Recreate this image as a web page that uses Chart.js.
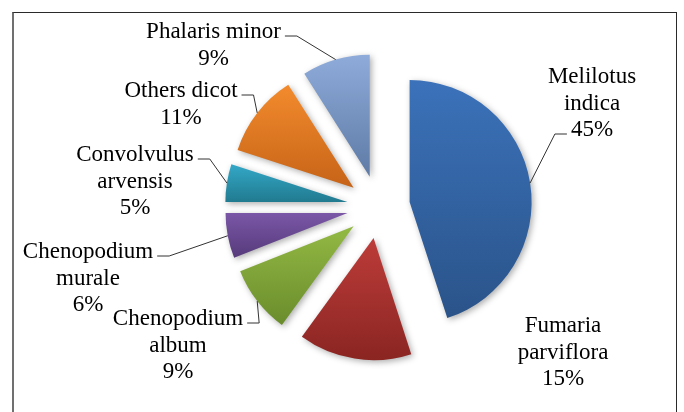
<!DOCTYPE html>
<html><head><meta charset="utf-8">
<script src="https://cdn.jsdelivr.net/npm/chart.js@4.4.1/dist/chart.umd.min.js"></script>
<style>
html,body{margin:0;padding:0;background:#fff;}
#wrap{position:relative;width:684px;height:412px;overflow:hidden;}
#frame{position:absolute;left:12px;top:12px;width:665px;height:440px;border:1px solid #2a2a2a;border-left:2px solid #707070;box-sizing:border-box;}
canvas{position:absolute;left:0;top:0;}
</style></head><body>
<div id="wrap"><div id="frame"></div><canvas id="c" width="684" height="412"></canvas></div>
<script>
// ---- data ----
const categories = ["Melilotus indica", "Fumaria parviflora", "Chenopodium album", "Chenopodium murale", "Convolvulus arvensis", "Others dicot", "Phalaris minor"];
const shares = [45, 15, 9, 6, 5, 11, 9];
// label text as broken into lines (name part), percent appended below
const labelLines = [["Melilotus", "indica"], ["Fumaria", "parviflora"], ["Chenopodium", "album"], ["Chenopodium", "murale"], ["Convolvulus", "arvensis"], ["Others dicot"], ["Phalaris minor"]];

// ---- style ----
const colorsTop    = ["#3b72ba", "#bd3c39", "#93b944", "#7b57a7", "#33a8c8", "#f38b2d", "#8eabda"];
const colorsBottom = ["#2a5389", "#8a2522", "#6a8c2c", "#563a7b", "#217a8f", "#c66317", "#5e7aa5"];
const EXPLODE = 31.5;
const RADIUS = 122;
const LINE_H = 26.5;
// label block placement relative to pie centre: x of text centre, baseline of first line
const labelDX = [213.5, 184.5, -200.5, -290.5, -243.5, -197.5, -165];
const labelDY = [-124, 125, 118, 51, -46, -110, -169];
// which line the leader attaches to, and from which side (null = no leader)
const leaderLine = [2, null, 0, 0, 0, 0, 0];
const leaderSide = ["left", null, "right", "right", "right", "right", "right"];

const explodePlugin = {
  id: 'explode',
  beforeDatasetDraw(chart, args) {
    const ctx = chart.ctx;
    args.meta.data.forEach((el, i) => {
      const {x, y, outerRadius: r, startAngle: a0, endAngle: a1} = el;
      const mid = (a0 + a1) / 2;
      const dx = Math.cos(mid) * EXPLODE, dy = Math.sin(mid) * EXPLODE;
      const ys = [y, y + Math.sin(a0) * r, y + Math.sin(a1) * r];
      for (const base of [-Math.PI / 2, Math.PI / 2]) {
        for (let k = -2; k <= 2; k++) {
          const t = base + k * 2 * Math.PI;
          if (t >= a0 && t <= a1) ys.push(y + Math.sin(t) * r);
        }
      }
      const top = Math.min(...ys), bot = Math.max(...ys);
      ctx.save();
      ctx.translate(dx, dy);
      const g = ctx.createLinearGradient(0, top, 0, bot);
      g.addColorStop(0, colorsTop[i]);
      g.addColorStop(1, colorsBottom[i]);
      const saved = el.options;
      el.options = Object.assign({}, saved, {backgroundColor: g, offset: 0, borderWidth: 0});
      ctx.shadowColor = 'rgba(0,0,0,0.32)';
      ctx.shadowBlur = 6;
      ctx.shadowOffsetX = 2;
      ctx.shadowOffsetY = 2;
      el.draw(ctx, chart.chartArea);
      el.options = saved;
      ctx.restore();
    });
    return false;
  },
  afterDatasetsDraw(chart) {
    const meta = chart.getDatasetMeta(0);
    const ctx = chart.ctx;
    ctx.save();
    ctx.font = '23px "Liberation Serif", "Times New Roman", serif';
    ctx.textAlign = 'center';
    ctx.textBaseline = 'alphabetic';
    ctx.fillStyle = '#000';
    ctx.strokeStyle = '#333';
    ctx.lineWidth = 1;
    meta.data.forEach((el, i) => {
      const cx = el.x + labelDX[i];
      const by = el.y + labelDY[i];
      const lines = labelLines[i].concat([shares[i] + '%']);
      lines.forEach((t, j) => ctx.fillText(t, cx, by + j * LINE_H));
      const side = leaderSide[i];
      if (side) {
        const li = leaderLine[i];
        const w = ctx.measureText(lines[li]).width;
        const sgn = side === 'right' ? 1 : -1;
        const sx = cx + sgn * (w / 2 + 4);
        const ex = sx + sgn * 12;
        const ly = by + li * LINE_H - 2;
        const mid = (el.startAngle + el.endAngle) / 2;
        const ax = el.x + Math.cos(mid) * (EXPLODE + el.outerRadius);
        const ay = el.y + Math.sin(mid) * (EXPLODE + el.outerRadius);
        ctx.beginPath();
        ctx.moveTo(sx, ly);
        ctx.lineTo(ex, ly);
        ctx.lineTo(ax, ay);
        ctx.stroke();
      }
    });
    ctx.restore();
  }
};

new Chart(document.getElementById('c'), {
  type: 'pie',
  data: {
    labels: categories,
    datasets: [{
      data: shares,
      backgroundColor: colorsTop,
      borderWidth: 0
    }]
  },
  options: {
    responsive: false,
    animation: false,
    events: [],
    radius: RADIUS,
    layout: {padding: {left: 100, right: 27, top: 2, bottom: 0}},
    plugins: {legend: {display: false}, tooltip: {enabled: false}}
  },
  plugins: [explodePlugin]
});
</script>
</body></html>
